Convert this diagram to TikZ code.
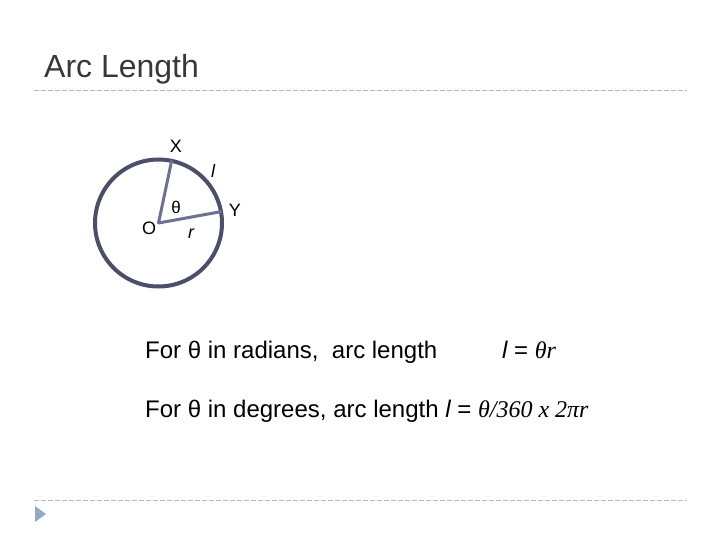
\documentclass[tikz,border=0pt]{standalone}
\usepackage{fontspec}
\setmainfont{Liberation Sans}
\newfontfamily\tms{Liberation Serif}
\definecolor{rim}{HTML}{4B4F68}
\definecolor{spoke}{HTML}{6B7192}
\definecolor{bullet}{HTML}{93A9C4}
\tikzset{lb/.style = {inner sep=0pt, font=\fontsize{18}{20}\selectfont},
           tx/.style = {anchor=base west, inner sep=0pt, font=\fontsize{24}{28}\selectfont},
           rl/.style = {draw=gray!55, line width=0.9pt, dash pattern=on 5pt off 2pt}}

\begin{document}
\begin{tikzpicture}[x=1pt, y=-1pt]
    \useasboundingbox (0,0) rectangle (720,540);
    \node[anchor=base west, inner sep=0pt, text=black!78, font=\fontsize{32}{36}\selectfont] (title) at (44,78) {Arc Length};
    \coordinate (l1) at (34,90); \coordinate (r1) at (687,90);
    \coordinate (l2) at (34,500); \coordinate (r2) at (687,500);
    \draw[rl] (l1) -- (r1);
    \draw[rl] (l2) -- (r2);
    \fill[bullet] (35,506) -- (46,514) -- (35,522) -- cycle;
    % circle and radii
    \coordinate (o) at (158.5,223);
    \coordinate (x) at (171.7,160.5);
    \coordinate (y) at (221.8,211.5);
    \draw[rim, line width=4pt] (o) circle (63.5);
    \draw[spoke, line width=3pt, line join=round] (x) -- (o) -- (y);
    \node[lb] (xl) at (176,146) {X};
    \node[lb] (yl) at (235,210) {Y};
    \node[lb] (ol) at (149,228) {O};
    \node[lb, font=\fontsize{17}{19}\selectfont] (th) at (176,207) {θ};
    \node[lb] (ll) at (213,171) {\itshape l};
    \node[lb] (rr) at (191,234) {\itshape r};
    % formulas
    \node[tx] (f1) at (145,358) {For θ in radians,\ \ arc length};
    \node[tx] (e1) at (502,358) {\itshape l\upshape\ = {\tms\itshape θr}};
    \node[tx] (f2) at (145,417) {For θ in degrees, arc length \itshape l\upshape\ = {\tms\itshape θ/360 x 2πr}};
\end{tikzpicture}
\end{document}
